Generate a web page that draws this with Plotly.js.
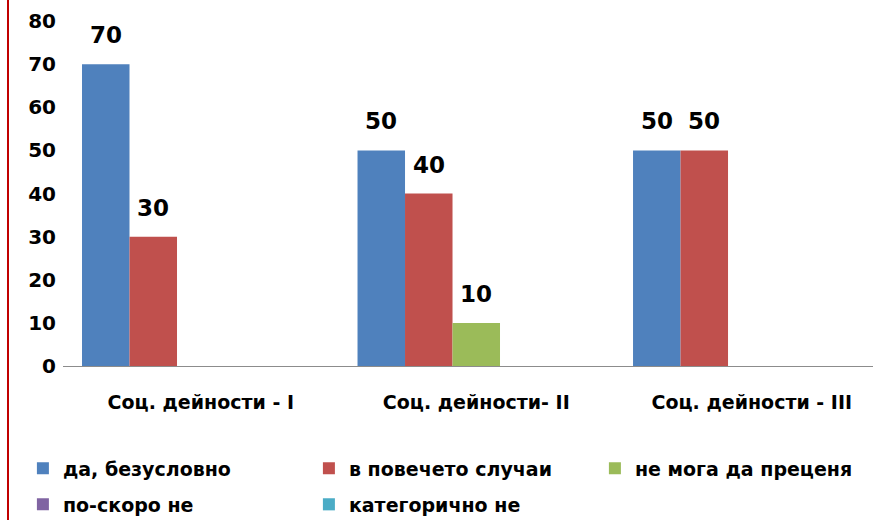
<!DOCTYPE html>
<html>
<head>
<meta charset="utf-8">
<script src="https://cdn.plot.ly/plotly-3.0.1.min.js"></script>
<style>html,body{margin:0;padding:0;background:#fff;}#chart{width:873px;height:520px;}</style>
</head>
<body>
<div id="chart"></div>
<script>
const categories = ["Соц. дейности - I", "Соц. дейности- II", "Соц. дейности - III"];
const seriesNames = ["да, безусловно", "в повечето случаи", "не мога да преценя", "по-скоро не", "категорично не"];
const daBezuslovno = [70, 50, 50];
const vPoveceto = [30, 40, 50];
const neMoga = [null, 10, null];
const poSkoro = [null, null, null];
const kategorichno = [null, null, null];
const yTicks = [0, 10, 20, 30, 40, 50, 60, 70, 80];

const colors = ["#4F81BD", "#C0504D", "#9BBB59", "#8064A2", "#4BACC6"];
const values = [daBezuslovno, vPoveceto, neMoga, poSkoro, kategorichno];
const legends = ["legend", "legend", "legend", "legend2", "legend2"];
const FONT = "DejaVu Sans, sans-serif";
const BARGAP = 0.138;
const nSeries = values.length;
const slot = (1 - BARGAP) / nSeries;

const traces = values.map((v, i) => ({
  type: "bar",
  name: seriesNames[i],
  x: [0, 1, 2],
  y: v,
  marker: {color: colors[i]},
  legend: legends[i],
  hoverinfo: "none"
}));

// data labels above bars, placed through the axes' own scales
const annotations = [];
values.forEach((v, i) => {
  v.forEach((val, c) => {
    if (val === null) return;
    annotations.push({
      xref: "x", yref: "y",
      x: c + (i - (nSeries - 1) / 2) * slot,
      y: val,
      text: String(val),
      showarrow: false,
      xanchor: "center", yanchor: "bottom",
      yshift: 14,
      font: {family: FONT, size: 23, color: "#000", weight: "bold"}
    });
  });
});

const legendFont = {family: FONT, size: 19, color: "#000", weight: "bold"};

const layout = {
  width: 873, height: 520,
  margin: {l: 63, r: 0, t: 21, b: 154, autoexpand: false},
  paper_bgcolor: "#fff", plot_bgcolor: "#fff",
  barmode: "group",
  bargap: BARGAP,
  bargroupgap: 0,
  xaxis: {
    range: [-0.5, 2.44],
    tickmode: "array", tickvals: [0, 1, 2], ticktext: categories,
    showline: true, linecolor: "#8c8c8c", linewidth: 1,
    ticks: "outside", ticklen: 19, tickcolor: "rgba(0,0,0,0)",
    showgrid: false, zeroline: false,
    tickfont: {family: FONT, size: 19, color: "#000", weight: "bold"}
  },
  yaxis: {
    range: [0, 80],
    tickmode: "array", tickvals: yTicks, ticktext: yTicks.map(String),
    showgrid: false, zeroline: false, showline: false,
    ticks: "outside", ticklen: 2, tickcolor: "rgba(0,0,0,0)",
    tickfont: {family: FONT, size: 20, color: "#000", weight: "bold"}
  },
  annotations: annotations,
  showlegend: true,
  legend: {
    orientation: "h", x: -0.0495, xanchor: "left", y: -0.2965, yanchor: "middle",
    entrywidth: 241, entrywidthmode: "pixels", bgcolor: "rgba(0,0,0,0)",
    font: legendFont, itemclick: false, traceorder: "normal"
  },
  legend2: {
    orientation: "h", x: -0.0495, xanchor: "left", y: -0.4015, yanchor: "middle",
    entrywidth: 241, entrywidthmode: "pixels", bgcolor: "rgba(0,0,0,0)",
    font: legendFont, itemclick: false, traceorder: "normal"
  },
  shapes: [{
    type: "line", xref: "paper", yref: "paper",
    x0: -55/810, x1: -55/810, y0: -154/345, y1: 1 + 21/345,
    line: {color: "#C00000", width: 2}
  }]
};

Plotly.newPlot("chart", traces, layout, {displayModeBar: false, staticPlot: true});
</script>
</body>
</html>
